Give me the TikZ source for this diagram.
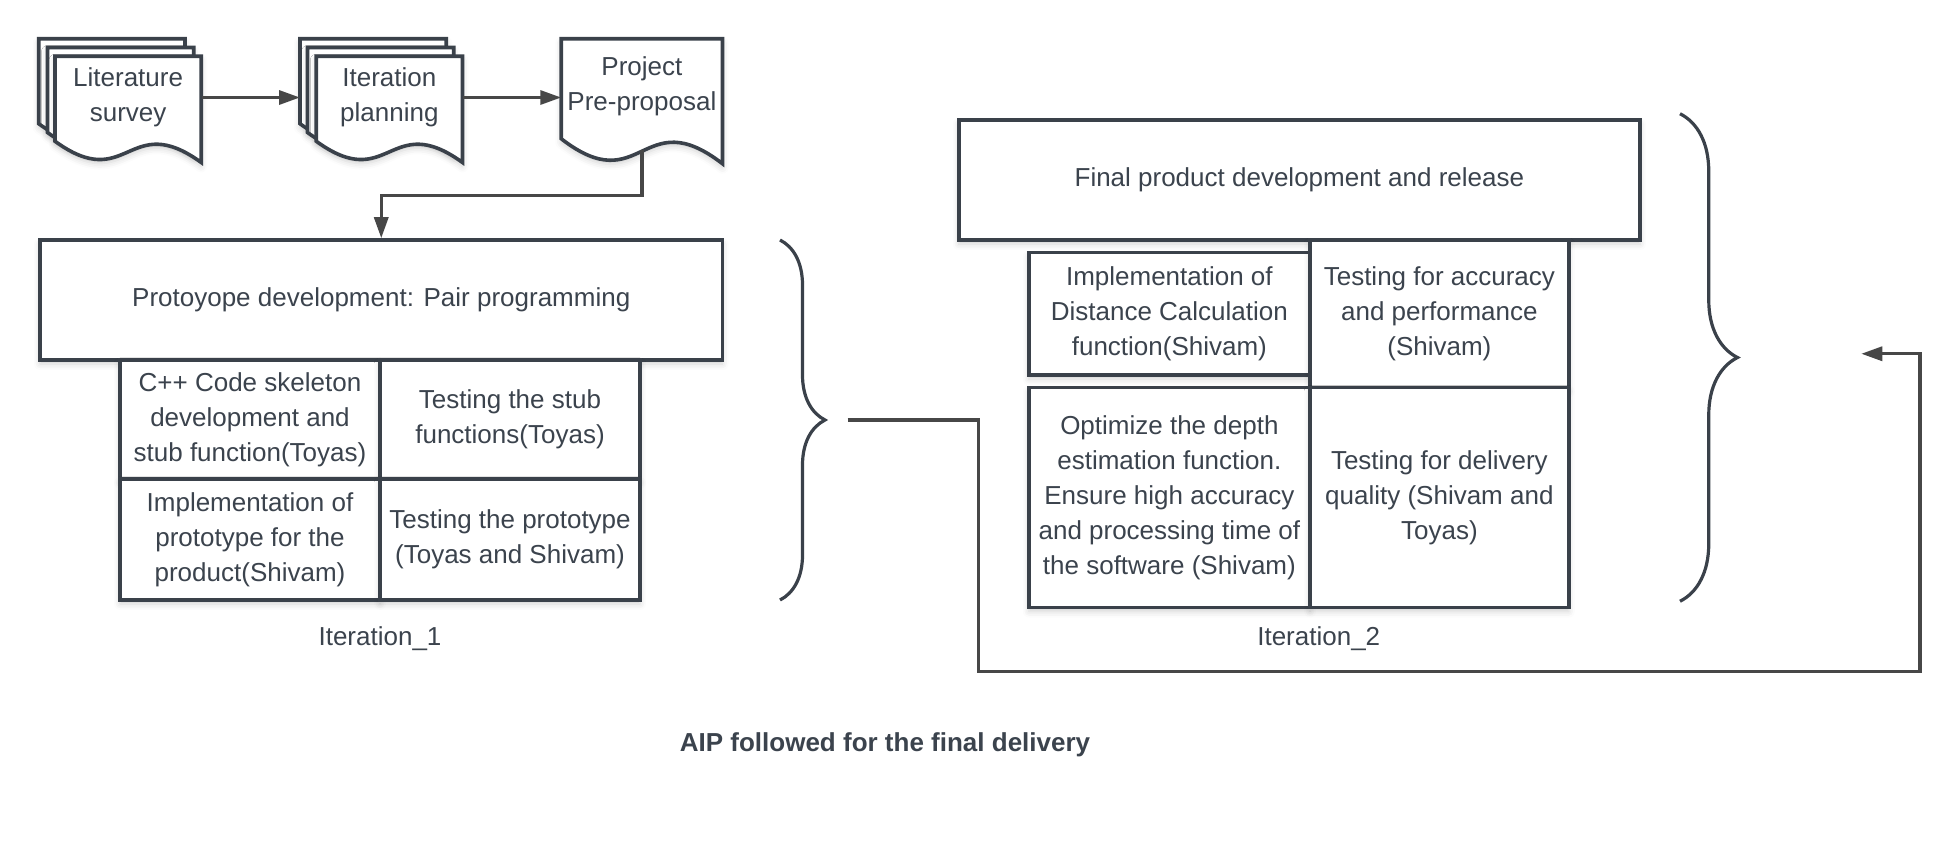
\documentclass[tikz,border=0pt]{standalone}
\usepackage{fontspec}
\setmainfont{Liberation Sans}
\usetikzlibrary{arrows.meta,decorations.pathreplacing,shadows.blur}
\definecolor{boxline}{HTML}{3A414A}
\definecolor{arrline}{HTML}{474747}
\definecolor{txt}{HTML}{3B434D}
% one sheet of a document shape, wavy bottom (x, y, width, height)
\newcommand{\docsheet}[4]{%
  \filldraw[sheet] (#1,#2) -- (#1+#3,#2) -- (#1+#3,#2+#4)
    .. controls (#1+0.5*#3,#2+0.5*#4) and (#1+0.5*#3,#2+1.3*#4) .. (#1,#2+0.8*#4) -- cycle;}
\begin{document}
\begin{tikzpicture}[x=0.625pt,y=-0.625pt,
    font=\fontsize{13}{17.5}\selectfont, text=txt,
    shade/.style={blur shadow={shadow xshift=0pt,shadow yshift=-2pt,shadow blur radius=3pt,shadow opacity=18}},
    sheet/.style={draw=boxline,fill=white,line width=1.8pt,shade},
    box/.style={draw=boxline,fill=white,line width=1.8pt,inner sep=0pt,align=center,shade},
    doctext/.style={inner sep=0pt,align=center},
    arr/.style={draw=arrline,line width=1.65pt,-{Triangle[length=10.5pt,width=7pt]}},
    brace/.style={draw=boxline,line width=1.6pt,decorate,decoration={brace,amplitude=#1}}]
  \useasboundingbox (0,0) rectangle (1568,675);
  % documents
  \docsheet{31}{31}{117}{85}
  \docsheet{38}{38}{117}{85}
  \docsheet{44}{45}{117}{85}
  \node[doctext,minimum width=73.1pt] (lit) at (102.5,78) {Literature\\survey};
  \docsheet{240}{31}{117}{85}
  \docsheet{246}{38}{117}{85}
  \docsheet{253}{45}{117}{85}
  \node[doctext,minimum width=73.1pt] (iter) at (311.5,78) {Iteration\\planning};
  \docsheet{449}{31}{129}{100}
  \node[doctext,minimum height=63.75pt] (prop) at (513.5,69) {Project\\Pre-proposal};
  \coordinate (iterin) at (240,78);
  \coordinate (propin) at (449,78);
  \draw[arr] (lit.east) -- (iterin);
  \draw[arr] (iter.east) -- (propin);
  % iteration 1
  \node[box,minimum width=341.25pt,minimum height=60pt] (proto) at (305,240) {Protoyope development: Pair programming};
  \node[box,minimum width=130pt,minimum height=59.4pt] (c11) at (200,335.5) {C++ Code skeleton\\development and\\stub function(Toyas)};
  \node[box,minimum width=130pt,minimum height=59.4pt] (c12) at (408,335.5) {Testing the stub\\functions(Toyas)};
  \node[box,minimum width=130pt,minimum height=60.6pt] (c21) at (200,431.5) {Implementation of\\prototype for the\\product(Shivam)};
  \node[box,minimum width=130pt,minimum height=60.6pt] (c22) at (408,431.5) {Testing the prototype\\(Toyas and Shivam)};
  \node (it1) at (304,511) {Iteration\_1};
  \draw[arr] (prop.south) -- ++(0,36) -| (proto.north);
  % iteration 2
  \node[box,minimum width=340.6pt,minimum height=60pt] (final) at (1039.5,144) {Final product development and release};
  \node[box,minimum width=140.6pt,minimum height=61.25pt] (d11) at (935.5,251) {Implementation of\\Distance Calculation\\function(Shivam)};
  \node[box,minimum width=129.4pt,minimum height=73.75pt] (d12) at (1151.5,251) {Testing for accuracy\\and performance\\(Shivam)};
  \node[box,minimum width=140.6pt,minimum height=110pt] (d21) at (935.5,398) {Optimize the depth\\estimation function.\\Ensure high accuracy\\and processing time of\\the software (Shivam)};
  \node[box,minimum width=129.4pt,minimum height=110pt] (d22) at (1151.5,398) {Testing for delivery\\quality (Shivam and\\Toyas)};
  \node (it2) at (1055,511) {Iteration\_2};
  % braces and loop back
  \draw[brace=22.5pt] (624,192) -- (624,480);
  \draw[brace=28.75pt] (1344,91) -- (1344,481);
  \coordinate (loopin) at (678,336);
  \coordinate (loopout) at (1489,283);
  \draw[arr] (loopin) -- (783,336) |- (1536,537) |- (loopout);
  \node[font=\fontsize{13}{17.5}\selectfont\bfseries] (title) at (708,596) {AIP followed for the final delivery};
\end{tikzpicture}
\end{document}
